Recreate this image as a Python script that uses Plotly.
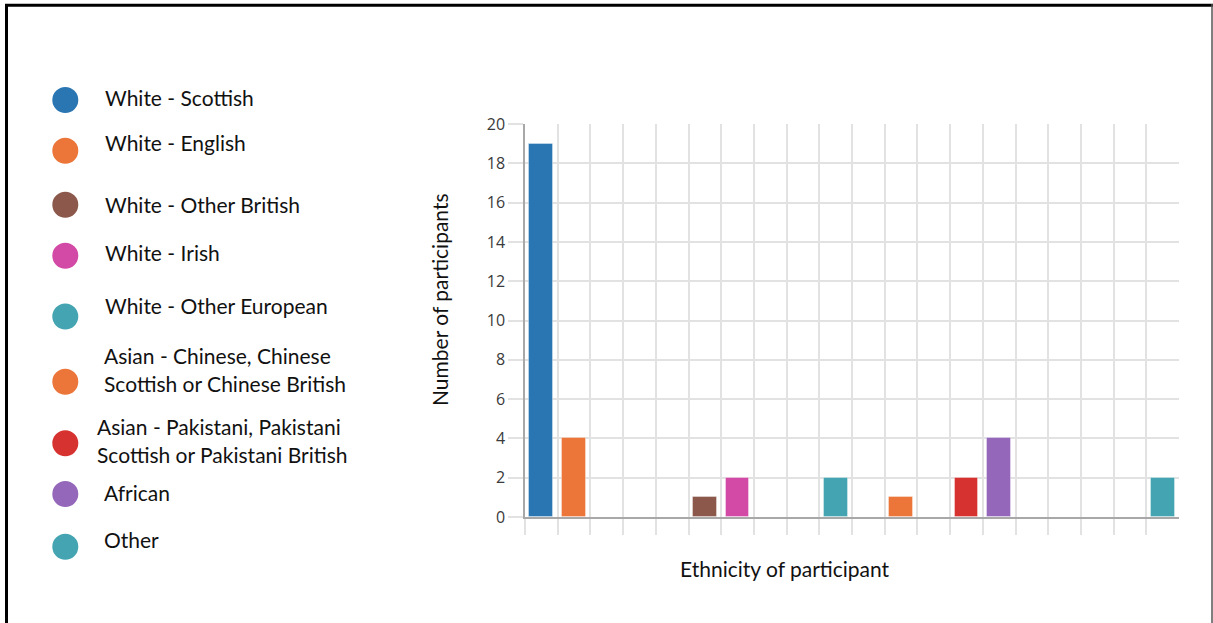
import plotly.graph_objects as go

# Participant counts by ethnicity, one column per category slot on the x axis
ethnicities = [
    "White - Scottish",
    "White - English",
    "White - Other British",
    "White - Irish",
    "White - Other European",
    "Asian - Chinese, Chinese<br>Scottish or Chinese British",
    "Asian - Pakistani, Pakistani<br>Scottish or Pakistani British",
    "African",
    "Other",
]
counts = [19, 4, 1, 2, 2, 1, 2, 4, 2]
columns = [0, 1, 5, 6, 9, 11, 13, 14, 19]
colors = ["#2a76b3", "#ec7539", "#8b584b", "#d34aa6", "#44a4b1",
          "#ec7539", "#d6322f", "#9467bb", "#44a4b1"]
n_columns = 20
y_ticks = list(range(0, 21, 2))

W, H = 1213, 623
ML, MR, MT, MB = 525, 34, 124, 106
PW, PH = W - ML - MR, H - MT - MB


def xp(px):
    return (px - ML) / PW


def yp(py):
    return (H - MB - py) / PH


TEXT_FONT = "Lato"
TEXT_SIZE = 21

fig = go.Figure()
fig.add_trace(go.Bar(
    x=[c + 0.5 for c in columns],
    y=counts,
    width=0.73,
    marker=dict(color=colors, line=dict(color="rgba(255,255,255,0.35)", width=1)),
    hoverinfo="y",
    showlegend=False,
))

grid = "#e2e2e2"
fig.update_xaxes(
    range=[0, n_columns], tickvals=list(range(n_columns)), showticklabels=False,
    showgrid=True, gridcolor=grid, gridwidth=1.5,
    ticks="outside", ticklen=16, tickcolor=grid, tickwidth=1.5,
    showline=True, linecolor="#a8a8a8", linewidth=1.5, zeroline=False,
)
fig.update_yaxes(
    range=[0, 20], tickvals=y_ticks,
    showgrid=True, gridcolor=grid, gridwidth=1.5,
    ticks="outside", ticklen=15, tickcolor=grid, tickwidth=1.5,
    showline=True, linecolor="#a8a8a8", linewidth=1.5, zeroline=False,
    tickfont=dict(family="Open Sans", size=16, color="#3a3a3a"),
)

annotations = []
shapes = []

# Axis titles
annotations.append(dict(
    text="Number of participants", xref="paper", yref="paper",
    x=xp(439), y=yp(300), xanchor="center", yanchor="middle", textangle=-90,
    showarrow=False, font=dict(family=TEXT_FONT, size=TEXT_SIZE, color="#111111"),
))
annotations.append(dict(
    text="Ethnicity of participant", xref="paper", yref="paper",
    x=xp(785), y=yp(568.5), xanchor="center", yanchor="middle",
    showarrow=False, font=dict(family=TEXT_FONT, size=TEXT_SIZE, color="#111111"),
))

# Hand-laid legend: colour dot plus label lines
dot_x = 65.3
dot_r = 13
dot_y = [100, 150.7, 204.7, 255.7, 316.5, 381.7, 443.3, 494, 546.7]
label_x = [105.7, 105.7, 105.7, 105.7, 105, 104.3, 97.3, 104.7, 104.7]
label_y = [97.8, 142.5, 204.5, 253.3, 305.5, 355.8, 426.8, 492.5, 539.8]
line_gap = 28.5

for name, col, cy, lx, ly in zip(ethnicities, colors, dot_y, label_x, label_y):
    shapes.append(dict(
        type="circle", xref="paper", yref="paper",
        x0=xp(dot_x - dot_r), x1=xp(dot_x + dot_r),
        y0=yp(cy + dot_r), y1=yp(cy - dot_r),
        fillcolor=col, line=dict(width=0),
    ))
    for i, line in enumerate(name.split("<br>")):
        annotations.append(dict(
            text=line, xref="paper", yref="paper",
            x=xp(lx - 2.4), y=yp(ly - 0.5 + i * line_gap), xanchor="left", yanchor="middle",
            showarrow=False, font=dict(family=TEXT_FONT, size=TEXT_SIZE, color="#111111"),
        ))

# Outer frame
shapes.append(dict(type="line", xref="paper", yref="paper",
                   x0=xp(6.5), x1=xp(6.5), y0=yp(4), y1=yp(H + 2),
                   line=dict(color="#000000", width=3)))
shapes.append(dict(type="line", xref="paper", yref="paper",
                   x0=xp(5), x1=xp(1213), y0=yp(5.3), y1=yp(5.3),
                   line=dict(color="#000000", width=3)))
shapes.append(dict(type="line", xref="paper", yref="paper",
                   x0=xp(1212), x1=xp(1212), y0=yp(4), y1=yp(H + 2),
                   line=dict(color="#555555", width=1.5)))

fig.update_layout(
    width=W, height=H,
    margin=dict(l=ML, r=MR, t=MT, b=MB, autoexpand=False),
    paper_bgcolor="white", plot_bgcolor="white",
    annotations=annotations, shapes=shapes,
    bargap=0,
)

fig.write_html("out.html", config={"displayModeBar": False})
